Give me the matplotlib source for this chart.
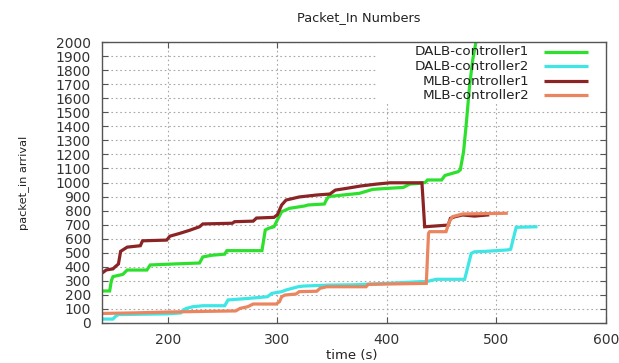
import matplotlib
matplotlib.use("Agg")
import matplotlib.pyplot as plt
from matplotlib.patches import Rectangle

plt.rcParams['font.family'] = ['DejaVu Sans']

# Packet_in counts over time for each controller (time in s, cumulative count)
dalb1_t = [140, 147, 148.5, 150, 159, 163, 181, 184, 205, 229, 232, 240, 252, 254, 286, 289, 292, 297,
           300, 304, 311, 325, 328, 343, 345, 347, 360, 375, 387, 400, 415, 421, 430, 435, 437, 450,
           453, 465, 467, 470, 472.5, 475.5, 478.5, 482]
dalb1_n = [228, 228, 300, 330, 346, 377, 377, 413, 420, 427, 470, 482, 490, 515, 515, 662, 674, 685,
           733, 792, 816, 833, 840, 847, 880, 900, 911, 923, 951, 958, 965, 989, 994, 1000, 1018, 1018,
           1050, 1077, 1090, 1219, 1420, 1690, 1880, 2030]

dalb2_t = [140, 150, 152, 155, 200, 212, 214, 217, 223, 232, 252, 255, 275, 291, 295, 304, 308, 319,
           324, 348, 370, 400, 430, 437, 445, 471, 477, 480, 490, 510, 513, 518, 536]
dalb2_n = [28, 28, 45, 60, 65, 72, 92, 104, 116, 123, 123, 164, 176, 187, 211, 223, 235, 258,
           263, 270, 272, 282, 294, 296, 311, 311, 495, 507, 510, 520, 525, 681, 685]

mlb1_t = [140, 144, 150, 152, 155, 157, 163, 175, 177, 199, 202, 211, 220, 229, 232, 259, 261, 278,
          281, 297, 300, 304, 308, 320, 336, 348, 353, 363, 376, 391, 403, 432, 433, 434.5, 456, 458,
          462, 469, 480, 492]
mlb1_n = [355, 378, 385, 400, 420, 510, 540, 550, 585, 590, 618, 638, 660, 685, 705, 710, 721, 725,
          747, 752, 770, 840, 875, 897, 911, 918, 946, 958, 975, 989, 998, 998, 875, 685, 697, 745,
          756, 769, 761, 769]

mlb2_t = [140, 170, 200, 228, 262, 266, 273, 278, 299, 302, 304, 307, 317, 320, 336, 339, 345, 381,
          383, 436, 438, 439, 454, 457, 460, 469, 509]
mlb2_n = [68, 72, 78, 82, 86, 104, 116, 135, 135, 152, 187, 199, 206, 223, 226, 247, 258, 258,
          275, 282, 638, 650, 650, 721, 757, 776, 781]

series_labels = ["DALB-controller1", "DALB-controller2", "MLB-controller1", "MLB-controller2"]
series_colors = ["#2ee02e", "#3fe6e6", "#8b2424", "#ea8560"]
x_ticks = [200, 300, 400, 500, 600]
y_ticks = list(range(0, 2001, 100))

fig = plt.figure(figsize=(6.19, 3.63), dpi=100)
ax = fig.add_axes([102 / 619, 40 / 363, 504 / 619, 281 / 363])

ax.set_xlim(140, 600)
ax.set_ylim(0, 2000)
ax.set_xticks(x_ticks)
ax.set_yticks(y_ticks)

ax.set_axisbelow(True)
ax.grid(True, linestyle=(0, (1.5, 2.5)), color="#a8a8a8", linewidth=0.8)

# opaque key area hides the grid behind the legend
ax.add_patch(Rectangle((391.5, 1566), 600 - 391.5, 2000 - 1566, facecolor="white",
                       edgecolor="none", zorder=1))

data = [(dalb1_t, dalb1_n), (dalb2_t, dalb2_n), (mlb1_t, mlb1_n), (mlb2_t, mlb2_n)]
for (t, n), c in zip(data, series_colors):
    ax.plot(t, n, color=c, linewidth=2.3, zorder=2, solid_joinstyle="miter")

# gnuplot-style key: right-aligned labels with samples on the right
row_y = [0.966, 0.914, 0.861, 0.810]
for lab, c, yy in zip(series_labels, series_colors, row_y):
    ax.text(0.847, yy, lab, transform=ax.transAxes, ha="right", va="center",
            fontsize=9.7, color="#222222", zorder=3)
    ax.plot([0.876, 0.965], [yy, yy], transform=ax.transAxes, color=c,
            linewidth=2.3, zorder=3, solid_capstyle="butt")

for s in ax.spines.values():
    s.set_color("#555555")
    s.set_linewidth(1.0)
    s.set_zorder(4)

ax.tick_params(direction="in", length=4, width=0.8, color="#555555",
               top=True, right=True, labelsize=10, labelcolor="#333333")
ax.tick_params(axis="y", pad=8)
ax.tick_params(axis="x", pad=7)

fig.text(359 / 619, 1 - 18 / 363, "Packet_In Numbers", ha="center", va="center",
         fontsize=9.3, color="#222222")
fig.text(352 / 619, 1 - 355 / 363, "time (s)", ha="center", va="center",
         fontsize=9.5, color="#222222")
fig.text(24 / 619, 1 - 183 / 363, "packet_in arrival", ha="center", va="center",
         rotation=90, fontsize=8.2, color="#222222")

fig.savefig("out.png", dpi=100, facecolor="white")
